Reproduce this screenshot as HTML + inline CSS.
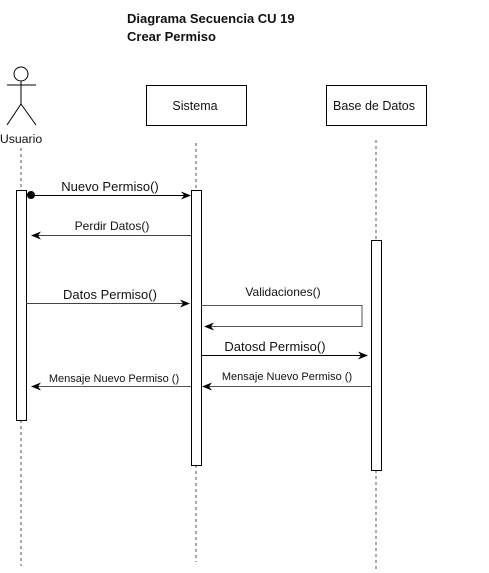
<!DOCTYPE html>
<html><head><meta charset="utf-8"><style>
body{margin:0;background:#fff}
svg{display:block}
text{font-family:"Liberation Sans",sans-serif;fill:#111}
</style></head><body>
<svg width="489" height="573" viewBox="0 0 489 573">
<defs>
<marker id="a" markerWidth="10" markerHeight="8" refX="9" refY="4" orient="auto" markerUnits="userSpaceOnUse"><path d="M0,0 L10,4 L0,8 L3,4 Z" fill="#000"/></marker>
</defs>
<text x="127" y="23" font-size="13" font-weight="bold">Diagrama Secuencia CU 19</text>
<text x="127" y="41" font-size="13" font-weight="bold">Crear Permiso</text>
<g stroke="#000" stroke-width="1" fill="none">
<circle cx="21" cy="74" r="7" fill="#fff"/>
<line x1="21" y1="81" x2="21" y2="104"/>
<line x1="7" y1="85" x2="36" y2="85"/>
<line x1="21" y1="104" x2="7" y2="125"/>
<line x1="21" y1="104" x2="36" y2="125"/>
<rect x="146.5" y="85.5" width="100" height="40" fill="#fff"/>
<rect x="326.5" y="85.5" width="100" height="40" fill="#fff"/>
</g>
<text x="21" y="143" font-size="12.3" text-anchor="middle">Usuario</text>
<text x="195" y="110" font-size="12.5" text-anchor="middle">Sistema</text>
<text x="374" y="110" font-size="12.5" text-anchor="middle">Base de Datos</text>
<g stroke="#555" stroke-width="1" stroke-dasharray="3,3">
<line x1="21" y1="148" x2="21" y2="190"/>
<line x1="21" y1="420" x2="21" y2="566"/>
<line x1="196" y1="143" x2="196" y2="190"/>
<line x1="196" y1="465" x2="196" y2="562"/>
<line x1="376" y1="140" x2="376" y2="240"/>
<line x1="376" y1="470" x2="376" y2="572"/>
</g>
<g stroke="#000" stroke-width="1" fill="#fff">
<rect x="16.5" y="190.5" width="10" height="230"/>
<rect x="191.5" y="190.5" width="10" height="275"/>
<rect x="371.5" y="240.5" width="10" height="230"/>
</g>
<g stroke="#000" stroke-width="1" fill="none">
<circle cx="31" cy="195" r="3.5" fill="#000"/>
<line x1="31" y1="195.5" x2="190" y2="195.5" marker-end="url(#a)"/>
<line x1="191" y1="235.5" x2="32" y2="235.5" marker-end="url(#a)" stroke="#444"/>
<line x1="26" y1="303.5" x2="189" y2="303.5" marker-end="url(#a)" stroke="#444"/>
<polyline points="201,305.5 362,305.5 362,326.5 205,326.5" marker-end="url(#a)" stroke="#555"/>
<line x1="201" y1="355.5" x2="367" y2="355.5" marker-end="url(#a)"/>
<line x1="371" y1="386.5" x2="203" y2="386.5" marker-end="url(#a)" stroke="#555"/>
<line x1="191" y1="386.5" x2="32" y2="386.5" marker-end="url(#a)" stroke="#555"/>
</g>
<text x="110" y="191" font-size="13" text-anchor="middle">Nuevo Permiso()</text>
<text x="112" y="230" font-size="12" text-anchor="middle">Perdir Datos()</text>
<text x="110" y="299" font-size="13" text-anchor="middle">Datos Permiso()</text>
<text x="283" y="296" font-size="12" text-anchor="middle">Validaciones()</text>
<text x="275" y="351" font-size="13" text-anchor="middle">Datosd Permiso()</text>
<text x="287" y="380" font-size="11" text-anchor="middle">Mensaje Nuevo Permiso ()</text>
<text x="114" y="382" font-size="11" text-anchor="middle">Mensaje Nuevo Permiso ()</text>
</svg>
</body></html>
